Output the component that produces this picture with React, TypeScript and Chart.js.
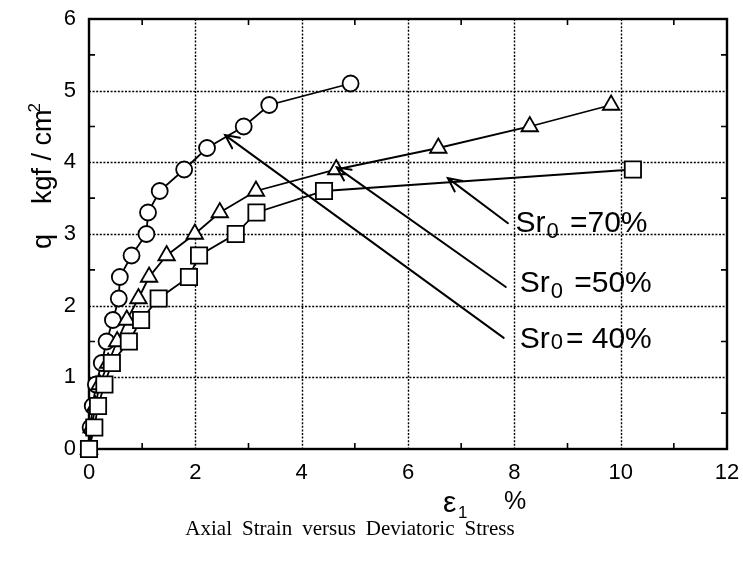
import React, { useEffect, useRef } from "react";
import { Chart, registerables } from "chart.js";

Chart.register(...registerables);

// Axial strain ε1 (%) against deviatoric stress q (kgf/cm²), one pair per initial saturation Sr0
const strainSr40 = [0, 0.03, 0.07, 0.13, 0.24, 0.33, 0.45, 0.56, 0.58, 0.8, 1.08, 1.11, 1.33, 1.79, 2.22, 2.91, 3.39, 4.92];
const stressSr40 = [0, 0.3, 0.6, 0.9, 1.2, 1.5, 1.8, 2.1, 2.4, 2.7, 3.0, 3.3, 3.6, 3.9, 4.2, 4.5, 4.8, 5.1];

const strainSr50 = [0, 0.05, 0.12, 0.2, 0.36, 0.53, 0.71, 0.93, 1.13, 1.46, 1.99, 2.46, 3.14, 4.65, 6.57, 8.29, 9.82];
const stressSr50 = [0, 0.3, 0.6, 0.9, 1.2, 1.5, 1.8, 2.1, 2.4, 2.7, 3.0, 3.3, 3.6, 3.9, 4.2, 4.5, 4.8];

const strainSr70 = [0, 0.1, 0.17, 0.29, 0.43, 0.75, 0.98, 1.31, 1.88, 2.07, 2.76, 3.15, 4.42, 10.23];
const stressSr70 = [0, 0.3, 0.6, 0.9, 1.2, 1.5, 1.8, 2.1, 2.4, 2.7, 3.0, 3.3, 3.6, 3.9];

// Axis tick values
const xTicks = [0, 2, 4, 6, 8, 10, 12];
const yTicks = [0, 1, 2, 3, 4, 5, 6];

// Callout labels "Sr0 = n%" with leader arrows (data units)
const calloutText = [" =70%", " =50%", "= 40%"];
const calloutTip = [[6.75, 3.78], [4.66, 3.93], [2.56, 4.38]];
const calloutTail = [[7.88, 3.15], [7.84, 2.26], [7.8, 1.55]];
const calloutAt = [[8.02, 3.03], [8.1, 2.19], [8.1, 1.41]];

const SANS = "'Liberation Sans', Arial, Helvetica, sans-serif";
const SERIF = "'Liberation Serif', 'Times New Roman', serif";

const toPoints = (xs: number[], ys: number[]) => xs.map((x, i) => ({ x, y: ys[i] }));

const framePlugin = {
  id: "frame",
  beforeDatasetsDraw(chart: any) {
    const { ctx, chartArea: a, scales } = chart;
    const sx = scales.x;
    const sy = scales.y;
    ctx.save();
    // dotted grid at the labelled ticks
    ctx.strokeStyle = "#000";
    ctx.lineWidth = 1.4;
    ctx.setLineDash([2, 1.6]);
    xTicks.slice(1, -1).forEach((v) => {
      const px = Math.round(sx.getPixelForValue(v)) + 0.5;
      ctx.beginPath();
      ctx.moveTo(px, a.top);
      ctx.lineTo(px, a.bottom);
      ctx.stroke();
    });
    yTicks.slice(1, -1).forEach((v) => {
      const py = Math.round(sy.getPixelForValue(v)) + 0.5;
      ctx.beginPath();
      ctx.moveTo(a.left, py);
      ctx.lineTo(a.right, py);
      ctx.stroke();
    });
    ctx.setLineDash([]);
    // inward minor ticks on all four sides
    ctx.lineWidth = 1.6;
    for (let v = 1; v < 12; v += 2) {
      const px = sx.getPixelForValue(v);
      ctx.beginPath();
      ctx.moveTo(px, a.bottom);
      ctx.lineTo(px, a.bottom - 6);
      ctx.moveTo(px, a.top);
      ctx.lineTo(px, a.top + 6);
      ctx.stroke();
    }
    for (let v = 0.5; v < 6; v += 1) {
      const py = sy.getPixelForValue(v);
      ctx.beginPath();
      ctx.moveTo(a.left, py);
      ctx.lineTo(a.left + 6, py);
      ctx.moveTo(a.right, py);
      ctx.lineTo(a.right - 6, py);
      ctx.stroke();
    }
    // plot frame
    ctx.lineWidth = 2.4;
    ctx.strokeRect(a.left, a.top, a.right - a.left, a.bottom - a.top);
    ctx.restore();
  },
  afterDatasetsDraw(chart: any) {
    const { ctx, scales } = chart;
    const sx = scales.x;
    const sy = scales.y;
    ctx.save();
    ctx.strokeStyle = "#000";
    ctx.fillStyle = "#000";
    ctx.lineWidth = 2;
    ctx.lineCap = "round";
    calloutTip.forEach((tip, i) => {
      const tx = sx.getPixelForValue(tip[0]);
      const ty = sy.getPixelForValue(tip[1]);
      const bx = sx.getPixelForValue(calloutTail[i][0]);
      const by = sy.getPixelForValue(calloutTail[i][1]);
      const ang = Math.atan2(by - ty, bx - tx);
      const len = 15;
      const spread = 0.45;
      ctx.beginPath();
      ctx.moveTo(bx, by);
      ctx.lineTo(tx, ty);
      ctx.moveTo(tx + len * Math.cos(ang - spread), ty + len * Math.sin(ang - spread));
      ctx.lineTo(tx, ty);
      ctx.lineTo(tx + len * Math.cos(ang + spread), ty + len * Math.sin(ang + spread));
      ctx.stroke();

      // label text
      let lx = sx.getPixelForValue(calloutAt[i][0]);
      const ly = sy.getPixelForValue(calloutAt[i][1]);
      ctx.textAlign = "left";
      ctx.textBaseline = "alphabetic";
      ctx.font = `30px ${SANS}`;
      ctx.fillText("Sr", lx, ly);
      lx += ctx.measureText("Sr").width + 1;
      ctx.font = `22px ${SANS}`;
      ctx.fillText("0", lx, ly + (i === 2 ? 1 : 6));
      lx += ctx.measureText("0").width + 3;
      ctx.font = `30px ${SANS}`;
      ctx.fillText(calloutText[i], lx, ly);
    });
    ctx.restore();
  },
  afterDraw(chart: any) {
    const { ctx } = chart;
    ctx.save();
    ctx.fillStyle = "#000";
    ctx.textBaseline = "alphabetic";
    ctx.textAlign = "left";

    // y-axis title, rotated
    ctx.save();
    ctx.translate(51, 249);
    ctx.rotate(-Math.PI / 2);
    ctx.font = `27px ${SANS}`;
    const main = "q    kgf / cm";
    ctx.fillText(main, 0, 0);
    const mw = ctx.measureText(main).width;
    ctx.font = `17px ${SANS}`;
    ctx.fillText("2", mw - 3, -11);
    ctx.restore();

    // x-axis title
    ctx.font = `30px ${SANS}`;
    ctx.fillText("ε", 443, 512);
    ctx.font = `17px ${SANS}`;
    ctx.fillText("1", 458, 518);
    ctx.font = `25px ${SANS}`;
    ctx.fillText("%", 504, 509);

    // caption
    ctx.font = `21px ${SERIF}`;
    const words = ["Axial", "Strain", "versus", "Deviatoric", "Stress"];
    const gap = 10;
    const total = words.reduce((s, w) => s + ctx.measureText(w).width, 0) + gap * (words.length - 1);
    let cx = 350 - total / 2;
    words.forEach((w) => {
      ctx.fillText(w, cx, 535);
      cx += ctx.measureText(w).width + gap;
    });
    ctx.restore();
  },
};

export default function App() {
  const canvasRef = useRef<HTMLCanvasElement | null>(null);

  useEffect(() => {
    const canvas = canvasRef.current;
    if (!canvas) return;
    const marker = {
      borderColor: "#000",
      backgroundColor: "#fff",
      pointBackgroundColor: "#fff",
      pointBorderColor: "#000",
      pointBorderWidth: 1.8,
      borderWidth: 1.8,
      tension: 0,
      clip: false as any,
    };
    const chart = new Chart(canvas, {
      type: "line",
      data: {
        datasets: [
          {
            label: "Sr0 = 70%",
            data: toPoints(strainSr70, stressSr70),
            pointStyle: "rect",
            pointRadius: 11.5,
            ...marker,
          },
          {
            label: "Sr0 = 50%",
            data: toPoints(strainSr50, stressSr50),
            pointStyle: "triangle",
            pointRadius: 9.5,
            ...marker,
          },
          {
            label: "Sr0 = 40%",
            data: toPoints(strainSr40, stressSr40),
            pointStyle: "circle",
            pointRadius: 8,
            ...marker,
          },
        ],
      },
      options: {
        animation: false,
        responsive: false,
        maintainAspectRatio: false,
        layout: { padding: { left: 0, right: 16, top: 19, bottom: 0 } },
        plugins: {
          legend: { display: false },
          tooltip: { enabled: false },
        },
        scales: {
          x: {
            type: "linear",
            min: 0,
            max: 12,
            grid: { display: false, drawTicks: false },
            border: { display: false },
            afterBuildTicks: (scale: any) => {
              scale.ticks = xTicks.map((v) => ({ value: v }));
            },
            afterFit: (scale: any) => {
              scale.height = 112;
              scale.paddingLeft = 0;
              scale.paddingRight = 0;
            },
            ticks: {
              color: "#000",
              padding: 11,
              font: { family: SANS, size: 22 },
              maxRotation: 0,
            },
          },
          y: {
            type: "linear",
            min: 0,
            max: 6,
            grid: { display: false, drawTicks: false },
            border: { display: false },
            afterBuildTicks: (scale: any) => {
              scale.ticks = yTicks.map((v) => ({ value: v }));
            },
            afterFit: (scale: any) => {
              scale.width = 89;
              scale.paddingTop = 0;
              scale.paddingBottom = 0;
            },
            ticks: {
              color: "#000",
              padding: 13,
              font: { family: SANS, size: 22 },
            },
          },
        },
      },
      plugins: [framePlugin],
    });
    return () => chart.destroy();
  }, []);

  return (
    <div style={{ position: "fixed", left: 0, top: 0, width: 743, height: 561, background: "#fff" }}>
      <canvas ref={canvasRef} width={743} height={561} style={{ width: 743, height: 561, display: "block" }} />
    </div>
  );
}
